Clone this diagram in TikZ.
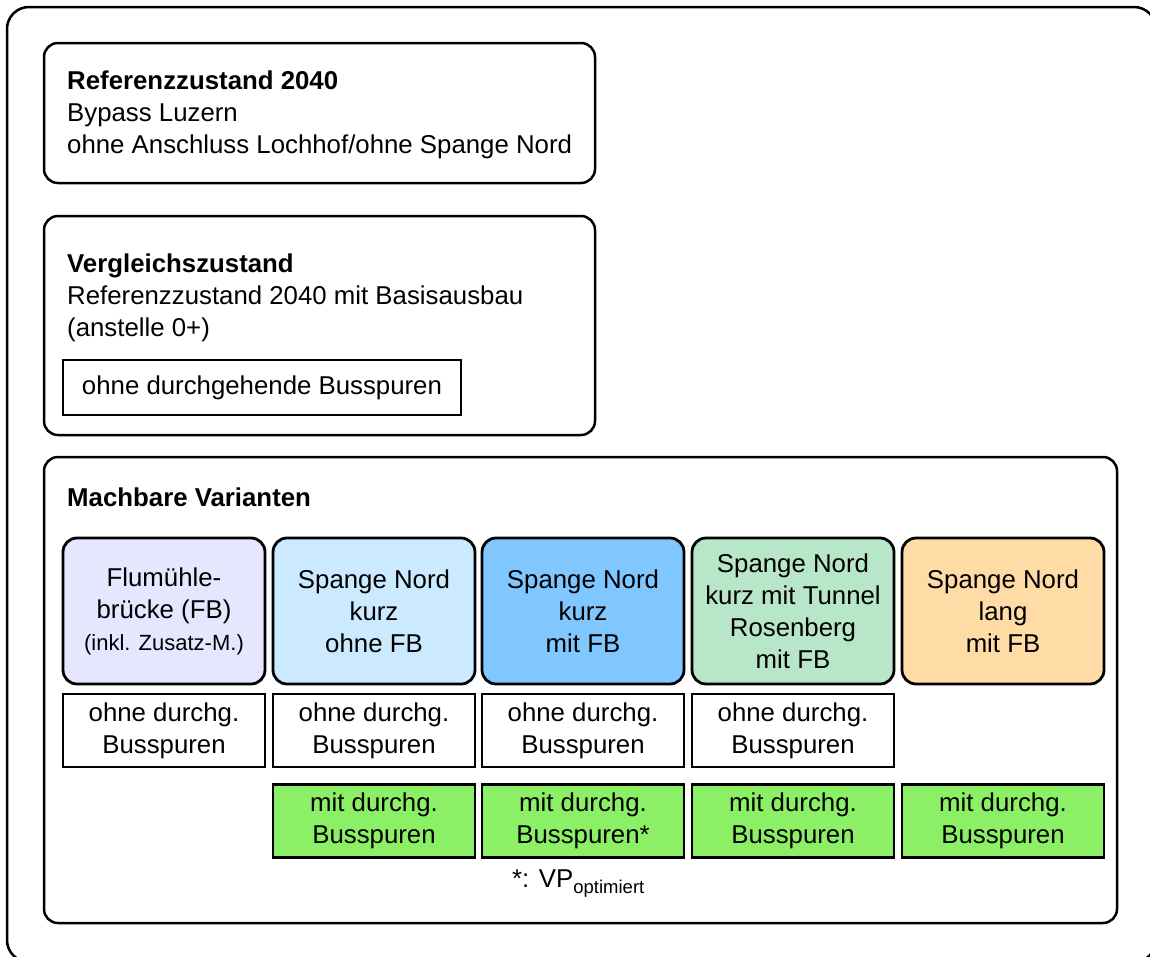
\documentclass[tikz,border=0pt]{standalone}
\usepackage{fontspec}
\setmainfont{Liberation Sans}
\definecolor{cLav}{HTML}{E6E6FF}
\definecolor{cLBlue}{HTML}{CCEAFF}
\definecolor{cBlue}{HTML}{80C6FF}
\definecolor{cTeal}{HTML}{B8E6C8}
\definecolor{cOrange}{HTML}{FFDCA6}
\definecolor{cGreen}{HTML}{8CF066}
\newcommand{\bigtxt}{\fontsize{25.8}{32}\selectfont}
\newcommand{\smalltxt}{\fontsize{22}{29}\selectfont}
\begin{document}
\begin{tikzpicture}[x=1pt,y=-1pt,
  frame/.style={draw=black, line width=2.5pt, rounded corners=14pt, inner sep=0pt},
  varbox/.style={draw=black, line width=2.8pt, rounded corners=14pt, minimum width=202pt, minimum height=146pt, align=center, inner sep=0pt, font=\bigtxt},
  busbox/.style={draw=black, line width=2.5pt, minimum width=202pt, minimum height=73pt, align=center, inner sep=0pt, font=\bigtxt},
  txt/.style={inner sep=0pt, align=left, font=\bigtxt}]
\useasboundingbox (0,0) rectangle (1150,956);
\clip (0,0) rectangle (1150,956);
% outer frame
\node[frame, rounded corners=22pt, minimum width=1149pt, minimum height=955pt] (outer) at (581.5,484.5) {};
% Referenzzustand
\node[frame, minimum width=551pt, minimum height=140pt] (ref) at (319.5,113) {};
\node[txt, anchor=west] (reftxt) at (67,115) {\textbf{Referenzzustand 2040}\\Bypass Luzern\\ohne Anschluss Lochhof/ohne Spange Nord};
% Vergleichszustand
\node[frame, minimum width=551pt, minimum height=219pt] (vgl) at (319.5,325.5) {};
\node[txt, anchor=west] (vgltxt) at (67,298) {\textbf{Vergleichszustand}\\Referenzzustand 2040 mit Basisausbau\\(anstelle 0+)};
\node[draw=black, line width=2.5pt, minimum width=398pt, minimum height=55pt, inner sep=0pt, font=\bigtxt] (vglbus) at (262,387.5) {ohne durchgehende Busspuren};
% Machbare Varianten
\node[frame, minimum width=1073pt, minimum height=466pt] (mv) at (580.5,690) {};
\node[txt, anchor=west] (mvtxt) at (67,497) {\textbf{Machbare Varianten}};
% variant boxes
\node[varbox, fill=cLav] (v1) at (164,611) {Flumühle-\\brücke (FB)\\{\smalltxt (inkl. Zusatz-M.)}};
\node[varbox, fill=cLBlue] (v2) at (374,611) {Spange Nord\\kurz\\ohne FB};
\node[varbox, fill=cBlue] (v3) at (583,611) {Spange Nord\\kurz\\mit FB};
\node[varbox, fill=cTeal] (v4) at (793,611) {Spange Nord\\kurz mit Tunnel\\Rosenberg\\mit FB};
\node[varbox, fill=cOrange] (v5) at (1003,611) {Spange Nord\\lang\\mit FB};
% ohne Busspuren
\node[busbox, fill=white] (o1) at (164,730.5) {ohne durchg.\\Busspuren};
\node[busbox, fill=white] (o2) at (374,730.5) {ohne durchg.\\Busspuren};
\node[busbox, fill=white] (o3) at (583,730.5) {ohne durchg.\\Busspuren};
\node[busbox, fill=white] (o4) at (793,730.5) {ohne durchg.\\Busspuren};
% mit Busspuren
\node[busbox, fill=cGreen] (m2) at (374,821) {mit durchg.\\Busspuren};
\node[busbox, fill=cGreen] (m3) at (583,821) {mit durchg.\\Busspuren*};
\node[busbox, fill=cGreen] (m4) at (793,821) {mit durchg.\\Busspuren};
\node[busbox, fill=cGreen] (m5) at (1003,821) {mit durchg.\\Busspuren};
% footnote
\node[inner sep=0pt, anchor=base west, font=\bigtxt] (fn) at (512,887) {*: VP\raisebox{-6pt}{\fontsize{18.5}{20}\selectfont optimiert}};
\end{tikzpicture}
\end{document}
